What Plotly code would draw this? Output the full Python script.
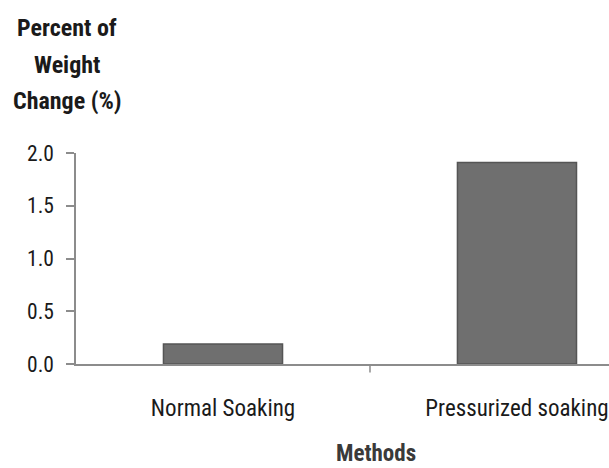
import plotly.graph_objects as go

methods = ["Normal Soaking", "Pressurized soaking"]
weight_change = [0.19, 1.91]
y_ticks = [0.0, 0.5, 1.0, 1.5, 2.0]
y_tick_text = ["0.0", "0.5", "1.0", "1.5", "2.0"]
y_title_lines = ["Percent of", "Weight", "Change (%)"]

FONT = "Roboto Condensed, Liberation Sans Narrow, sans-serif"
AXIS_GREY = "#8c8c8c"

fig = go.Figure()
fig.add_trace(go.Bar(
    x=[0, 1],
    y=weight_change,
    width=0.405,
    marker=dict(color="#6f6f6f", line=dict(color="#555555", width=1.5)),
    showlegend=False,
))

fig.update_layout(
    width=609, height=468,
    margin=dict(l=76, r=0, t=153, b=104),
    paper_bgcolor="white", plot_bgcolor="white",
    font=dict(family=FONT, color="#1a1a1a"),
)

fig.update_xaxes(
    range=[-0.5, 1.313],
    tickmode="array", tickvals=[0, 1], ticktext=methods,
    showgrid=False, zeroline=False,
    showline=True, linecolor=AXIS_GREY, linewidth=1.5,
    tickfont=dict(size=23, family=FONT, color="#1a1a1a"),
    ticks="", ticklabelstandoff=23,
    ticklabeloverflow="allow",
)
fig.update_yaxes(
    range=[0, 2.0],
    tickmode="array", tickvals=y_ticks, ticktext=y_tick_text,
    showgrid=False, zeroline=False,
    showline=True, linecolor=AXIS_GREY, linewidth=1.5,
    ticks="outside", ticklen=8, tickcolor=AXIS_GREY, tickwidth=1.5,
    tickfont=dict(size=21.5, family=FONT, color="#1a1a1a"),
    ticklabelstandoff=8,
)

# divider tick between the two categories
fig.add_shape(type="line", xref="x", yref="paper",
              x0=0.5, x1=0.5, y0=0, y1=-0.04,
              line=dict(color=AXIS_GREY, width=1.5))

# y-axis title stacked above the axis, one annotation per line
for i, line in enumerate(y_title_lines):
    fig.add_annotation(
        xref="paper", yref="paper", x=-0.016, y=1.0, yshift=153 - 28 - 36.5 * i,
        xanchor="center", yanchor="middle",
        text=f"<b>{line}</b>", showarrow=False,
        font=dict(size=24, family=FONT, color="#1a1a1a"),
    )

# x-axis title
fig.add_annotation(
    xref="x", yref="paper", x=0.52, y=0, yshift=-89,
    xanchor="center", yanchor="middle",
    text="<b>Methods</b>", showarrow=False,
    font=dict(size=23, family=FONT, color="#3a3a3a"),
)

fig.write_html("out.html")
